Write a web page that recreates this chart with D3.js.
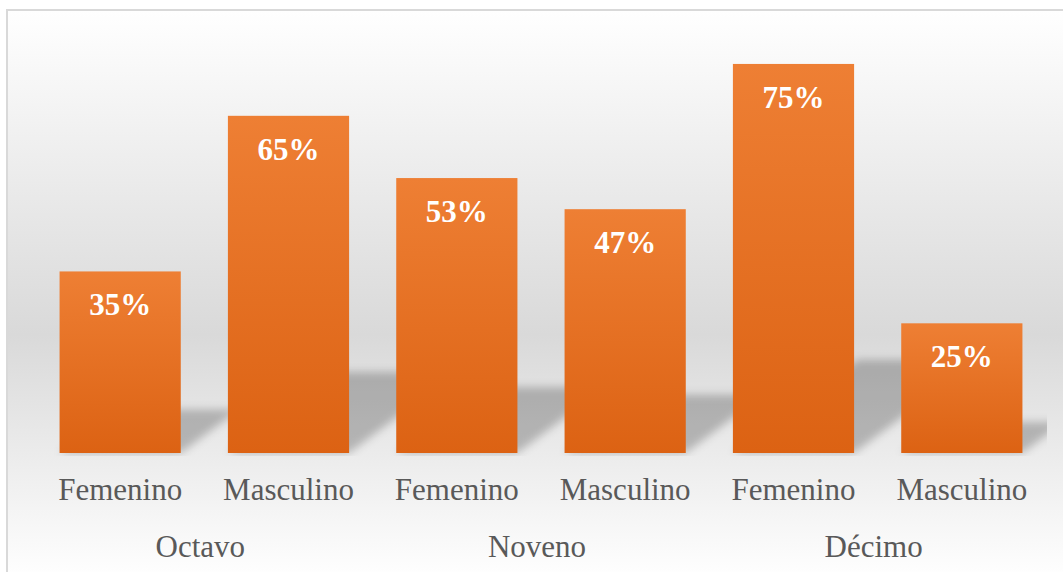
<!DOCTYPE html>
<meta charset="utf-8">
<style>
    body {
        margin: 0;
        background-color: #ffffff;
    }

    .cat-axis text {
        font-family: "Liberation Serif", "Times New Roman", serif;
        font-size: 31px;
        fill: #595959;
    }

    .bar-label {
        font-family: "Liberation Serif", "Times New Roman", serif;
        font-size: 31px;
        font-weight: bold;
        fill: #ffffff;
    }

    .group-label {
        font-family: "Liberation Serif", "Times New Roman", serif;
        font-size: 31px;
        fill: #595959;
    }
</style>

<body>
    <script src="https://d3js.org/d3.v7.min.js"></script>

    <script>
        var width = 1063,
            height = 572;

        // data
        const grades = ["Octavo", "Noveno", "Décimo"];
        const genders = ["Femenino", "Masculino"];
        const percents = [35, 65, 53, 47, 75, 25];

        const rows = [];
        grades.forEach(function (g, i) {
            genders.forEach(function (s, j) {
                rows.push({ grade: g, gender: s, key: g + "|" + s, value: percents[i * 2 + j] })
            })
        })

        var svg = d3.select("body").append("svg")
            .attr("width", width)
            .attr("height", height)

        var defs = svg.append("defs")

        // chart area background, white -> gray -> white
        var bg = defs.append("linearGradient")
            .attr("id", "bg-grad")
            .attr("gradientUnits", "userSpaceOnUse")
            .attr("x1", 0).attr("y1", 10)
            .attr("x2", 0).attr("y2", 580)
        bg.append("stop").attr("offset", "0%").attr("stop-color", "#ffffff")
        bg.append("stop").attr("offset", "57%").attr("stop-color", "#d9d9d9")
        bg.append("stop").attr("offset", "100%").attr("stop-color", "#ffffff")

        var barGrad = defs.append("linearGradient")
            .attr("id", "bar-grad")
            .attr("x1", 0).attr("y1", 0)
            .attr("x2", 0).attr("y2", 1)
        barGrad.append("stop").attr("offset", "0%").attr("stop-color", "#ee7f34")
        barGrad.append("stop").attr("offset", "100%").attr("stop-color", "#dc6213")

        defs.append("filter")
            .attr("id", "blur")
            .attr("x", "-20%").attr("y", "-20%")
            .attr("width", "140%").attr("height", "140%")
            .append("feGaussianBlur")
            .attr("stdDeviation", 4)

        var x = d3.scaleBand()
            .domain(rows.map(d => d.key))
            .range([36, 1046])
            .paddingInner(0.28)
            .paddingOuter(0.14)

        var y = d3.scaleLinear()
            .domain([0, 80])
            .range([453, 38])

        defs.append("clipPath")
            .attr("id", "plot-clip")
            .append("rect")
            .attr("x", 36).attr("y", 0)
            .attr("width", 1047 - 36).attr("height", 456)

        svg.append("rect")
            .attr("x", 7).attr("y", 10)
            .attr("width", 1080).attr("height", 600)
            .attr("fill", "url(#bg-grad)")
            .attr("stroke", "#d9d9d9")
            .attr("stroke-width", 2)

        // perspective shadows behind the bars
        svg.append("g")
            .attr("clip-path", "url(#plot-clip)")
            .append("g")
            .attr("filter", "url(#blur)")
            .selectAll("polygon")
            .data(rows)
            .enter().append("polygon")
            .attr("points", function (d) {
                var h = y(0) - y(d.value)
                var x0 = x(d.key), x1 = x(d.key) + x.bandwidth()
                var dx = h * 0.32, sh = h * 0.24
                var b = y(0)
                return [[x0, b], [x1, b], [x1 + dx, b - sh], [x0 + dx, b - sh]].join(" ")
            })
            .attr("fill", "#000")
            .attr("opacity", 0.23)

        svg.append("g")
            .selectAll("rect")
            .data(rows)
            .enter().append("rect")
            .attr("x", d => x(d.key))
            .attr("y", d => y(d.value))
            .attr("width", x.bandwidth())
            .attr("height", d => y(0) - y(d.value))
            .attr("fill", "url(#bar-grad)")

        svg.append("g")
            .selectAll("text")
            .data(rows)
            .enter().append("text")
            .attr("class", "bar-label")
            .attr("x", d => x(d.key) + x.bandwidth() / 2)
            .attr("y", d => y(d.value) + 44)
            .attr("text-anchor", "middle")
            .text(d => d.value + "%")

        var axis = d3.axisBottom(x)
            .tickSize(0)
            .tickPadding(0)
            .tickFormat(k => k.split("|")[1])

        var ax = svg.append("g")
            .attr("class", "cat-axis")
            .attr("transform", "translate(0," + y(0) + ")")
            .call(axis)
        ax.select(".domain").remove()
        ax.selectAll("text")
            .attr("dy", null)
            .attr("y", 47)

        svg.append("g")
            .selectAll("text")
            .data(grades)
            .enter().append("text")
            .attr("class", "group-label")
            .attr("x", function (g) {
                var a = x(g + "|" + genders[0])
                var b = x(g + "|" + genders[1]) + x.bandwidth()
                return (a + b) / 2 - 4
            })
            .attr("y", 557)
            .attr("text-anchor", "middle")
            .text(d => d)
    </script>
</body>

</html>
